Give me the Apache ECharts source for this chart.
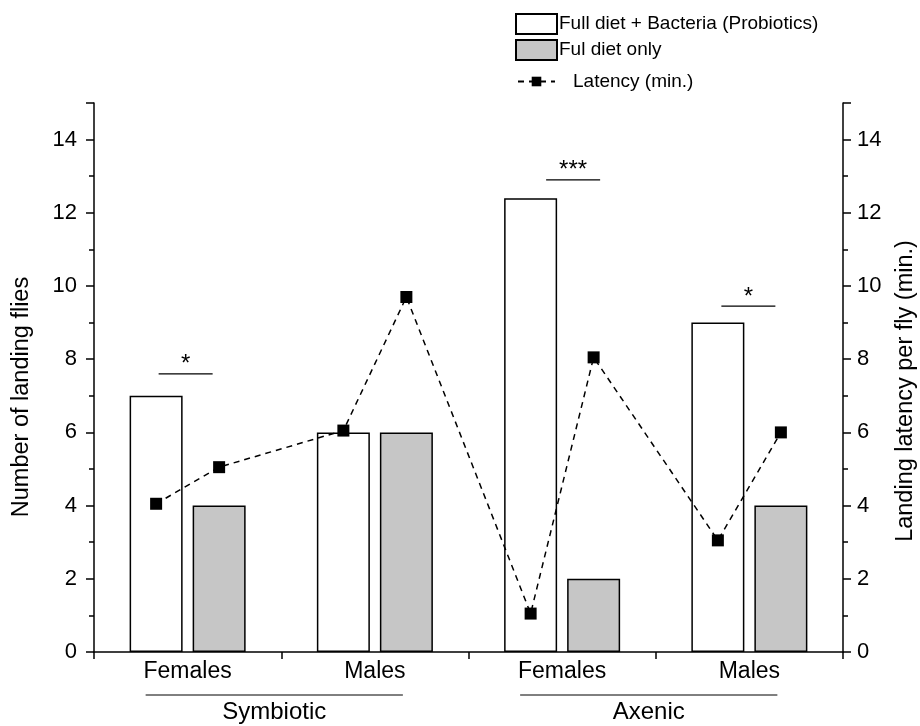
<!DOCTYPE html>
<html>
<head>
<meta charset="utf-8">
<script src="https://cdn.jsdelivr.net/npm/echarts@6/dist/echarts.min.js"></script>
<style>html,body{margin:0;padding:0;background:#fff}#c{width:920px;height:726px}</style>
</head>
<body>
<div id="c"></div>
<script>
// ---- data ----
var categories = ['Symbiotic Females', 'Symbiotic Males', 'Axenic Females', 'Axenic Males'];
var sexLabels = ['Females', 'Males', 'Females', 'Males'];
var groupNames = ['Symbiotic', 'Axenic'];
var groupStart = [0, 2];
var probioticsValues = [7, 6, 12.4, 9];
var fullDietValues = [4, 6, 2, 4];
var latencyValues = [4.05, 5.05, 6.05, 9.7, 1.05, 8.05, 3.05, 6.0];
var sigCategory = [0, 2, 3];
var sigLevel = [7.6, 12.9, 9.45];
var sigText = ['*', '***', '*'];
var yTicks = [0, 2, 4, 6, 8, 10, 12, 14];

var FONT = 'Liberation Sans, Arial, sans-serif';
var grid = {left: 94, right: 77, top: 103, bottom: 74, containLabel: false, outerBoundsMode: 'none'};
var barW = 53, gapPx = 10;
var catW = (920 - grid.left - grid.right) / categories.length;
var off = (barW + gapPx) / 2 / catW;

// line points placed at bar centres on a hidden value axis (0..n categories)
var latencyData = latencyValues.map(function (v, i) {
  var c = Math.floor(i / 2);
  var x = c + 0.5 + (i % 2 === 0 ? -off : off);
  return [x, v];
});

var sigData = sigCategory.map(function (c, i) { return [c, sigLevel[i], sigText[i]]; });
var sigDx = [-2, 11, -1];

var yAxisCommon = {
  type: 'value', min: 0, max: 15, interval: 2,
  axisLine: {show: true, lineStyle: {color: '#000', width: 1.5}},
  axisTick: {show: true, inside: false, length: 8, lineStyle: {color: '#000', width: 1.5}},
  minorTick: {show: true, splitNumber: 2, length: 5, lineStyle: {color: '#000', width: 1.5}},
  splitLine: {show: false},
  axisLabel: {color: '#000', fontSize: 22, fontFamily: FONT, margin: 17,
    formatter: function (v) { return yTicks.indexOf(v) >= 0 ? String(v) : ''; }},
  nameLocation: 'middle',
  nameTextStyle: {color: '#000', fontSize: 23.5, fontFamily: FONT}
};

var option = {
  backgroundColor: '#fff',
  animation: false,
  grid: grid,
  legend: [{
    data: ['Full diet + Bacteria (Probiotics)', 'Ful diet only'],
    orient: 'vertical', left: 515, top: 13, padding: 0, icon: 'rect',
    itemWidth: 41, itemHeight: 20, itemGap: 4,
    textStyle: {color: '#000', fontSize: 19, fontFamily: FONT, padding: [0, 0, 0, -3]},
    selectedMode: false
  }, {
    data: ['Latency (min.)'],
    orient: 'vertical', left: 517, top: 72, padding: 0, itemWidth: 37, itemHeight: 12,
    textStyle: {color: '#000', fontSize: 19, fontFamily: FONT, padding: [0, 0, 0, 13]},
    selectedMode: false
  }],
  xAxis: [{
    type: 'category', data: categories,
    axisLine: {show: true, lineStyle: {color: '#000', width: 1.5}},
    axisTick: {show: true, inside: false, length: 7, alignWithLabel: false, lineStyle: {color: '#000', width: 1.5}},
    axisLabel: {color: '#000', fontSize: 23, fontFamily: FONT, margin: 8,
      formatter: function (v, i) { return sexLabels[i]; }},
    splitLine: {show: false}
  }, {
    type: 'value', min: 0, max: categories.length, show: false
  }],
  yAxis: [
    Object.assign({}, yAxisCommon, {position: 'left', name: 'Number of landing flies', nameGap: 60,
      nameTextStyle: Object.assign({}, yAxisCommon.nameTextStyle, {padding: [0, 39, 0, 0]})}),
    Object.assign({}, yAxisCommon, {position: 'right', name: 'Landing latency per fly (min.)', nameGap: 51,
      nameTextStyle: Object.assign({}, yAxisCommon.nameTextStyle, {padding: [0, 27, 0, 0]}),
      axisLabel: Object.assign({}, yAxisCommon.axisLabel, {margin: 14})})
  ],
  series: [{
    name: 'Full diet + Bacteria (Probiotics)', type: 'bar', data: probioticsValues,
    barWidth: barW, barGap: (gapPx / barW * 100).toFixed(1) + '%',
    itemStyle: {color: '#fff', borderColor: '#000', borderWidth: 1.5}
  }, {
    name: 'Ful diet only', type: 'bar', data: fullDietValues,
    barWidth: barW,
    itemStyle: {color: '#c6c6c6', borderColor: '#000', borderWidth: 1.5}
  }, {
    name: 'Latency (min.)', type: 'line', xAxisIndex: 1, yAxisIndex: 1, data: latencyData,
    symbol: 'rect', symbolSize: 12, z: 5,
    lineStyle: {color: '#000', width: 1.5, type: [6, 5]},
    itemStyle: {color: '#000'}
  }, {
    type: 'custom', data: sigData, z: 6, silent: true,
    renderItem: function (params, api) {
      var p = api.coord([api.value(0), api.value(1)]);
      var x = p[0] + sigDx[params.dataIndex];
      return {type: 'group', children: [
        {type: 'line', shape: {x1: x - 27, y1: p[1], x2: x + 27, y2: p[1]}, style: {stroke: '#000', lineWidth: 1.2}},
        {type: 'text', style: {x: x, y: p[1] - 9, text: sigText[params.dataIndex], fill: '#000',
          font: '24px ' + FONT, textAlign: 'center', textVerticalAlign: 'middle'}}
      ]};
    }
  }]
};

var chart = echarts.init(document.getElementById('c'), null, {renderer: 'canvas'});
chart.setOption(option);

// group labels beneath the category labels
var graphics = [];
groupNames.forEach(function (g, k) {
  var a = chart.convertToPixel({xAxisIndex: 0}, groupStart[k]);
  var b = chart.convertToPixel({xAxisIndex: 0}, groupStart[k] + 1);
  var x1 = a - 42, x2 = b + 28;
  var yLine = 726 - grid.bottom + 43;
  graphics.push({type: 'line', shape: {x1: x1, y1: yLine, x2: x2, y2: yLine}, style: {stroke: '#000', lineWidth: 1}});
  graphics.push({type: 'text', style: {x: (x1 + x2) / 2, y: yLine + 17, text: g, fill: '#000',
    font: '24px ' + FONT, textAlign: 'center', textVerticalAlign: 'middle'}});
});
chart.setOption({graphic: graphics});
</script>
</body>
</html>
